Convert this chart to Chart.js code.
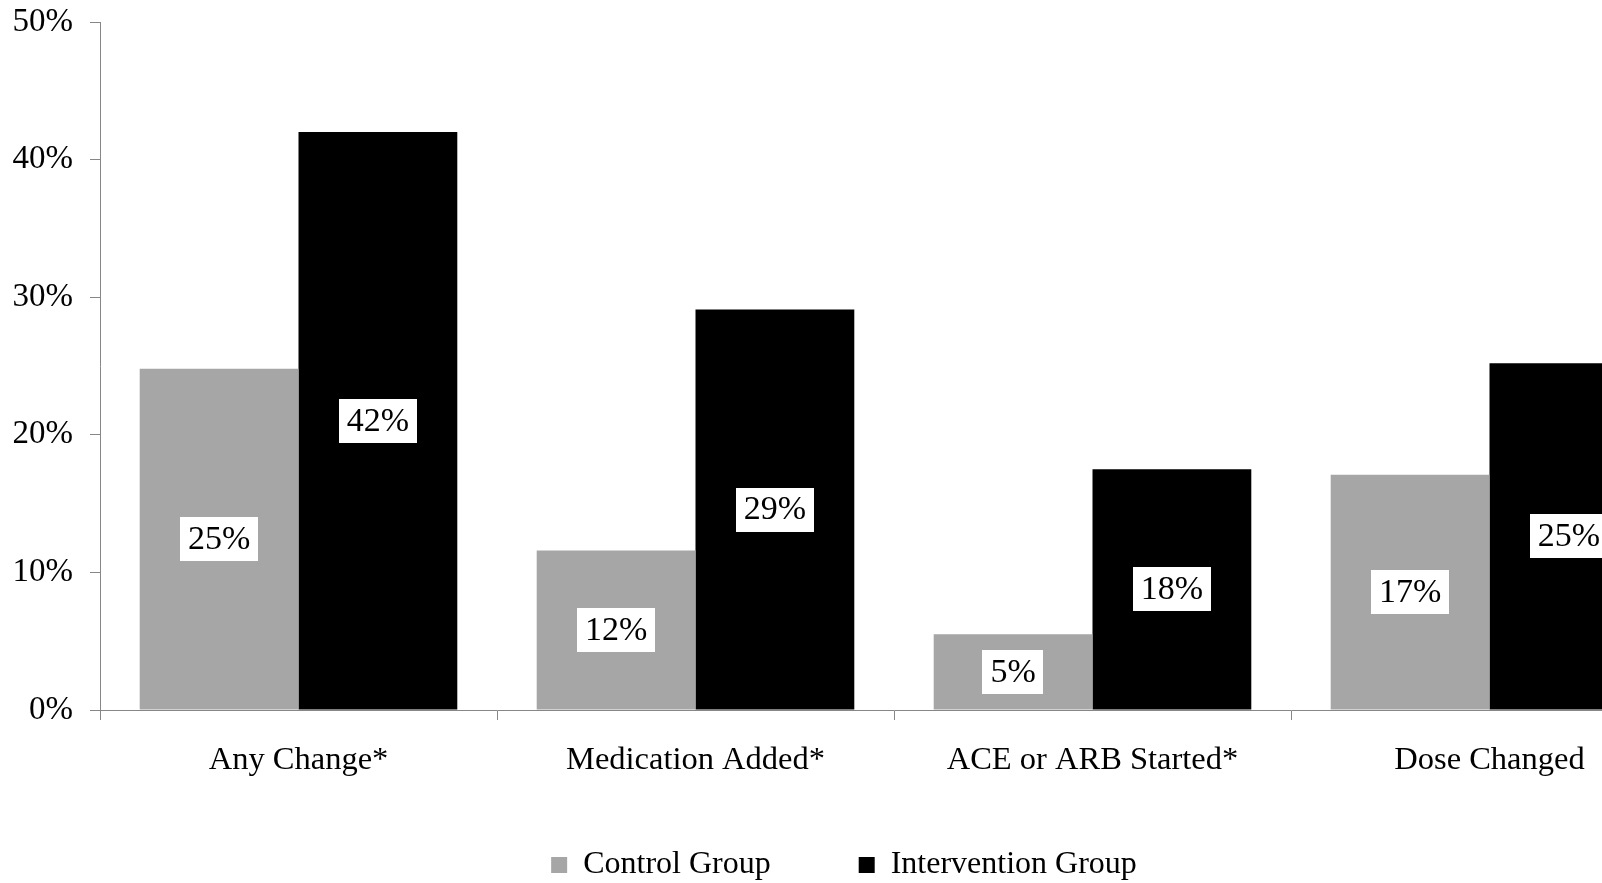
<!DOCTYPE html>
<html>
<head>
<meta charset="utf-8">
<script src="https://cdn.jsdelivr.net/npm/chart.js@4/dist/chart.umd.min.js"></script>
<style>
    html, body { margin: 0; padding: 0; background: #fff; overflow: hidden; }
    #wrap { position: relative; width: 1702px; height: 891px; }
</style>
</head>
<body>
<div id="wrap"><canvas id="changeChart"></canvas></div>
<script>
// Chart data
const categories = ['Any Change*', 'Medication Added*', 'ACE or ARB Started*', 'Dose Changed'];
const controlValues = [24.8, 11.6, 5.5, 17.1];
const interventionValues = [42.0, 29.1, 17.5, 25.2];
const controlLabels = ['25%', '12%', '5%', '17%'];
const interventionLabels = ['42%', '29%', '18%', '25%'];
const yTicks = [0, 10, 20, 30, 40, 50];

const serif = '"Liberation Serif", "Times New Roman", serif';
const axisGrey = '#878787';

// Draws the white value boxes in the middle of each bar
const valueBoxes = {
    id: 'valueBoxes',
    afterDatasetsDraw(chart) {
        const ctx = chart.ctx;
        const texts = [controlLabels, interventionLabels];
        ctx.save();
        ctx.font = '34px ' + serif;
        ctx.textAlign = 'center';
        ctx.textBaseline = 'middle';
        chart.data.datasets.forEach((ds, i) => {
            const meta = chart.getDatasetMeta(i);
            meta.data.forEach((bar, j) => {
                const text = texts[i][j];
                const cx = bar.x;
                const cy = (bar.y + bar.base) / 2;
                const w = ctx.measureText(text).width + 16;
                const h = 44;
                ctx.fillStyle = '#ffffff';
                ctx.fillRect(Math.round(cx - w / 2), Math.round(cy - h / 2), Math.round(w), h);
                ctx.fillStyle = '#000000';
                ctx.fillText(text, cx, cy + 1);
            });
        });
        ctx.restore();
    }
};

const ctx = document.getElementById('changeChart').getContext('2d');
new Chart(ctx, {
    type: 'bar',
    data: {
        labels: categories,
        datasets: [{
            label: 'Control Group',
            data: controlValues,
            backgroundColor: '#a6a6a6',
            borderWidth: 0
        }, {
            label: 'Intervention Group',
            data: interventionValues,
            backgroundColor: '#000000',
            borderWidth: 0
        }]
    },
    options: {
        responsive: true,
        maintainAspectRatio: false,
        animation: false,
        categoryPercentage: 0.8,
        barPercentage: 1.0,
        layout: { padding: { top: 22, right: 14, left: 0, bottom: 0 } },
        plugins: {
            tooltip: { enabled: false },
            legend: {
                position: 'bottom',
                labels: {
                    color: '#000',
                    font: { family: serif, size: 32 },
                    boxWidth: 16,
                    boxHeight: 16,
                    padding: 24,
                    // wider gap between the two legend entries
                    generateLabels(chart) {
                        const items = Chart.defaults.plugins.legend.labels.generateLabels(chart);
                        items[0].text += '\u2003\u2003';
                        return items;
                    }
                }
            }
        },
        scales: {
            x: {
                border: { color: axisGrey, width: 1 },
                grid: { drawOnChartArea: false, drawTicks: true, tickLength: 10, color: axisGrey },
                ticks: { color: '#000', font: { family: serif, size: 32.5 }, padding: 21, maxRotation: 0 },
                afterFit(scale) { scale.height = 115; }
            },
            y: {
                min: 0,
                max: 50,
                border: { color: axisGrey, width: 1 },
                grid: { drawOnChartArea: false, drawTicks: true, tickLength: 10, color: axisGrey },
                afterBuildTicks(scale) { scale.ticks = yTicks.map(v => ({ value: v })); },
                ticks: {
                    color: '#000',
                    font: { family: serif, size: 33, lineHeight: 0.3 },
                    padding: 17,
                    callback: v => v + '%'
                },
                afterFit(scale) { scale.width = 100; }
            }
        }
    },
    plugins: [valueBoxes]
});
</script>
</body>
</html>
